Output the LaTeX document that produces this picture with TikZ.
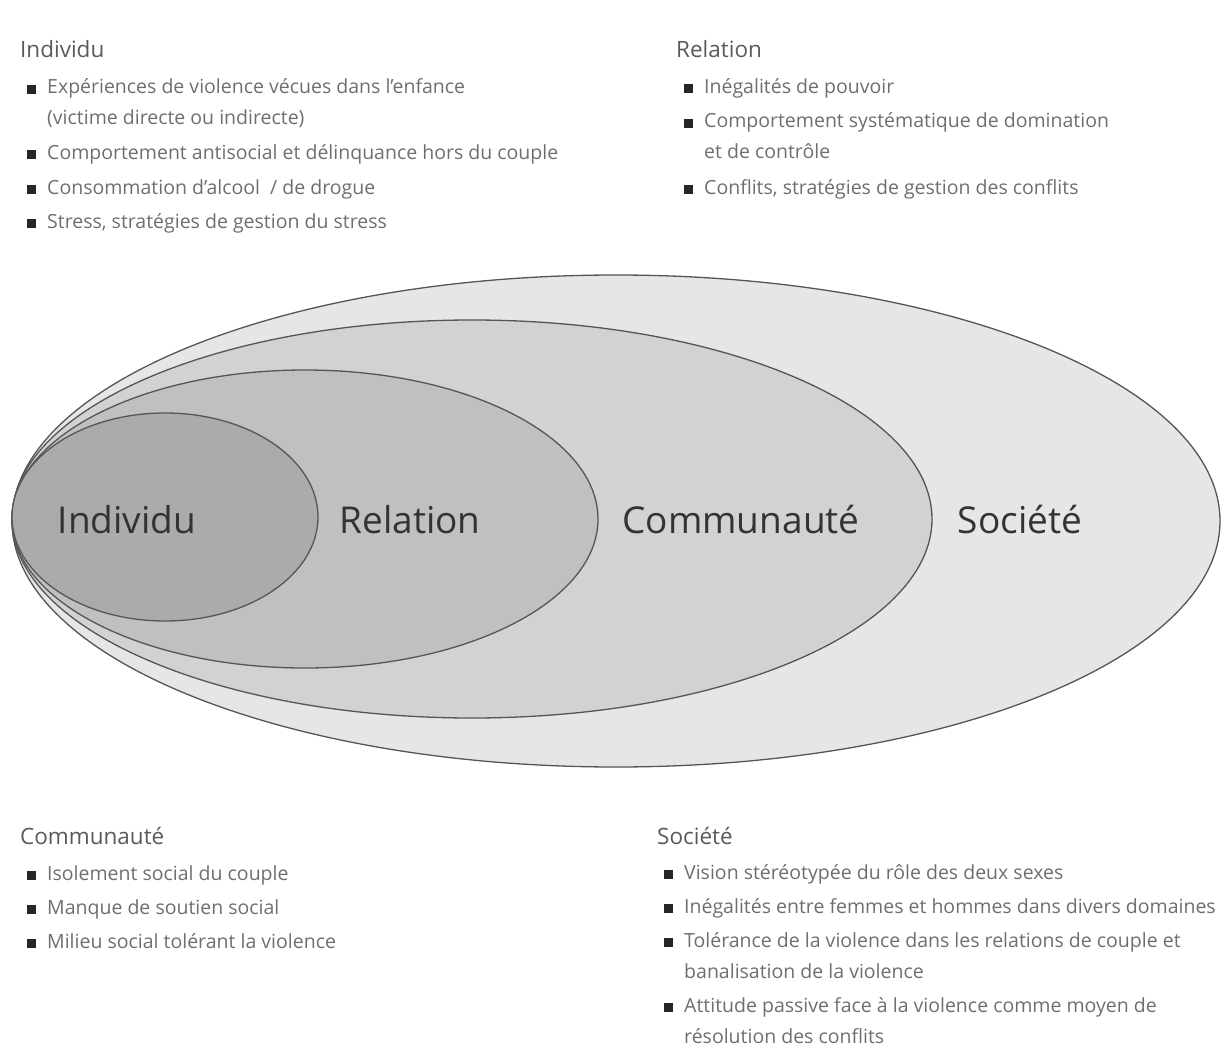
\documentclass[tikz,border=0pt]{standalone}
\usepackage{fontspec}
\setmainfont{Open Sans}
\usetikzlibrary{positioning}
\definecolor{txtgray}{HTML}{6E6E6E}
\definecolor{headgray}{HTML}{5A5A5A}
\definecolor{labgray}{HTML}{333333}
\definecolor{ringgray}{HTML}{555555}
\definecolor{socfill}{HTML}{E6E6E6}
\definecolor{comfill}{HTML}{D2D2D2}
\definecolor{relfill}{HTML}{C0C0C0}
\definecolor{indfill}{HTML}{ABABAB}
\newcommand{\puce}{\makebox[0pt][r]{\textcolor{black!85}{\rule[0.5pt]{9pt}{9pt}}\hspace{11pt}}}
\tikzset{
  head/.style={anchor=base west, inner sep=0pt, text=headgray, font=\fontsize{22.5}{26}\selectfont},
  item/.style={anchor=base west, inner sep=0pt, text=txtgray, align=left, font=\fontsize{19.5}{31}\selectfont},
  ring/.style={draw=ringgray, line width=1.3pt},
  big/.style={text=labgray, font=\fontsize{37}{42}\selectfont}
}
\begin{document}
\begin{tikzpicture}[x=1pt,y=-1pt]
  \useasboundingbox (0,0) rectangle (1224,1046);
  % ellipses, outer first
  \filldraw[ring, fill=socfill] (616,521) ellipse [x radius=604pt, y radius=246pt];
  \filldraw[ring, fill=comfill] (472,519) ellipse [x radius=460pt, y radius=199pt];
  \filldraw[ring, fill=relfill] (305,519) ellipse [x radius=293pt, y radius=149pt];
  \filldraw[ring, fill=indfill] (165,517) ellipse [x radius=153pt, y radius=104pt];
  \node[big] (lind) at (127,520) {Individu};
  \node[big] (lrel) at (410,520) {Relation};
  \node[big] (lcom) at (741,520) {Communauté};
  \node[big] (lsoc) at (1020,520) {Société};

  % Individu (multi-line nodes sit on their last baseline)
  \node[head] (hind) at (20,58) {Individu};
  \node[item] (ind1) at (47,125) {\puce Expériences de violence vécues dans l'enfance\\(victime directe ou indirecte)};
  \node[item] (ind2) at (47,160) {\puce Comportement antisocial et délinquance hors du couple};
  \node[item] (ind3) at (47,194) {\puce Consommation d'alcool~ / de drogue};
  \node[item] (ind4) at (47,228) {\puce Stress, stratégies de gestion du stress};

  % Relation
  \node[head] (hrel) at (676,58) {Relation};
  \node[item] (rel1) at (704,94) {\puce Inégalités de pouvoir};
  \node[item] (rel2) at (704,159) {\puce Comportement systématique de domination\\et de contrôle};
  \node[item] (rel3) at (704,194) {\puce Conflits, stratégies de gestion des conflits};

  % Communaute
  \node[head] (hcom) at (20,844) {Communauté};
  \node[item] (com1) at (47,880) {\puce Isolement social du couple};
  \node[item] (com2) at (47,914) {\puce Manque de soutien social};
  \node[item] (com3) at (47,948) {\puce Milieu social tolérant la violence};

  % Societe
  \node[head] (hsoc) at (657,844) {Société};
  \node[item] (soc1) at (684,879) {\puce Vision stéréotypée du rôle des deux sexes};
  \node[item] (soc2) at (684,913) {\puce Inégalités entre femmes et hommes dans divers domaines};
  \node[item] (soc3) at (684,978) {\puce Tolérance de la violence dans les relations de couple et\\banalisation de la violence};
  \node[item] (soc4) at (684,1043) {\puce Attitude passive face à la violence comme moyen de\\résolution des conflits};
\end{tikzpicture}
\end{document}
